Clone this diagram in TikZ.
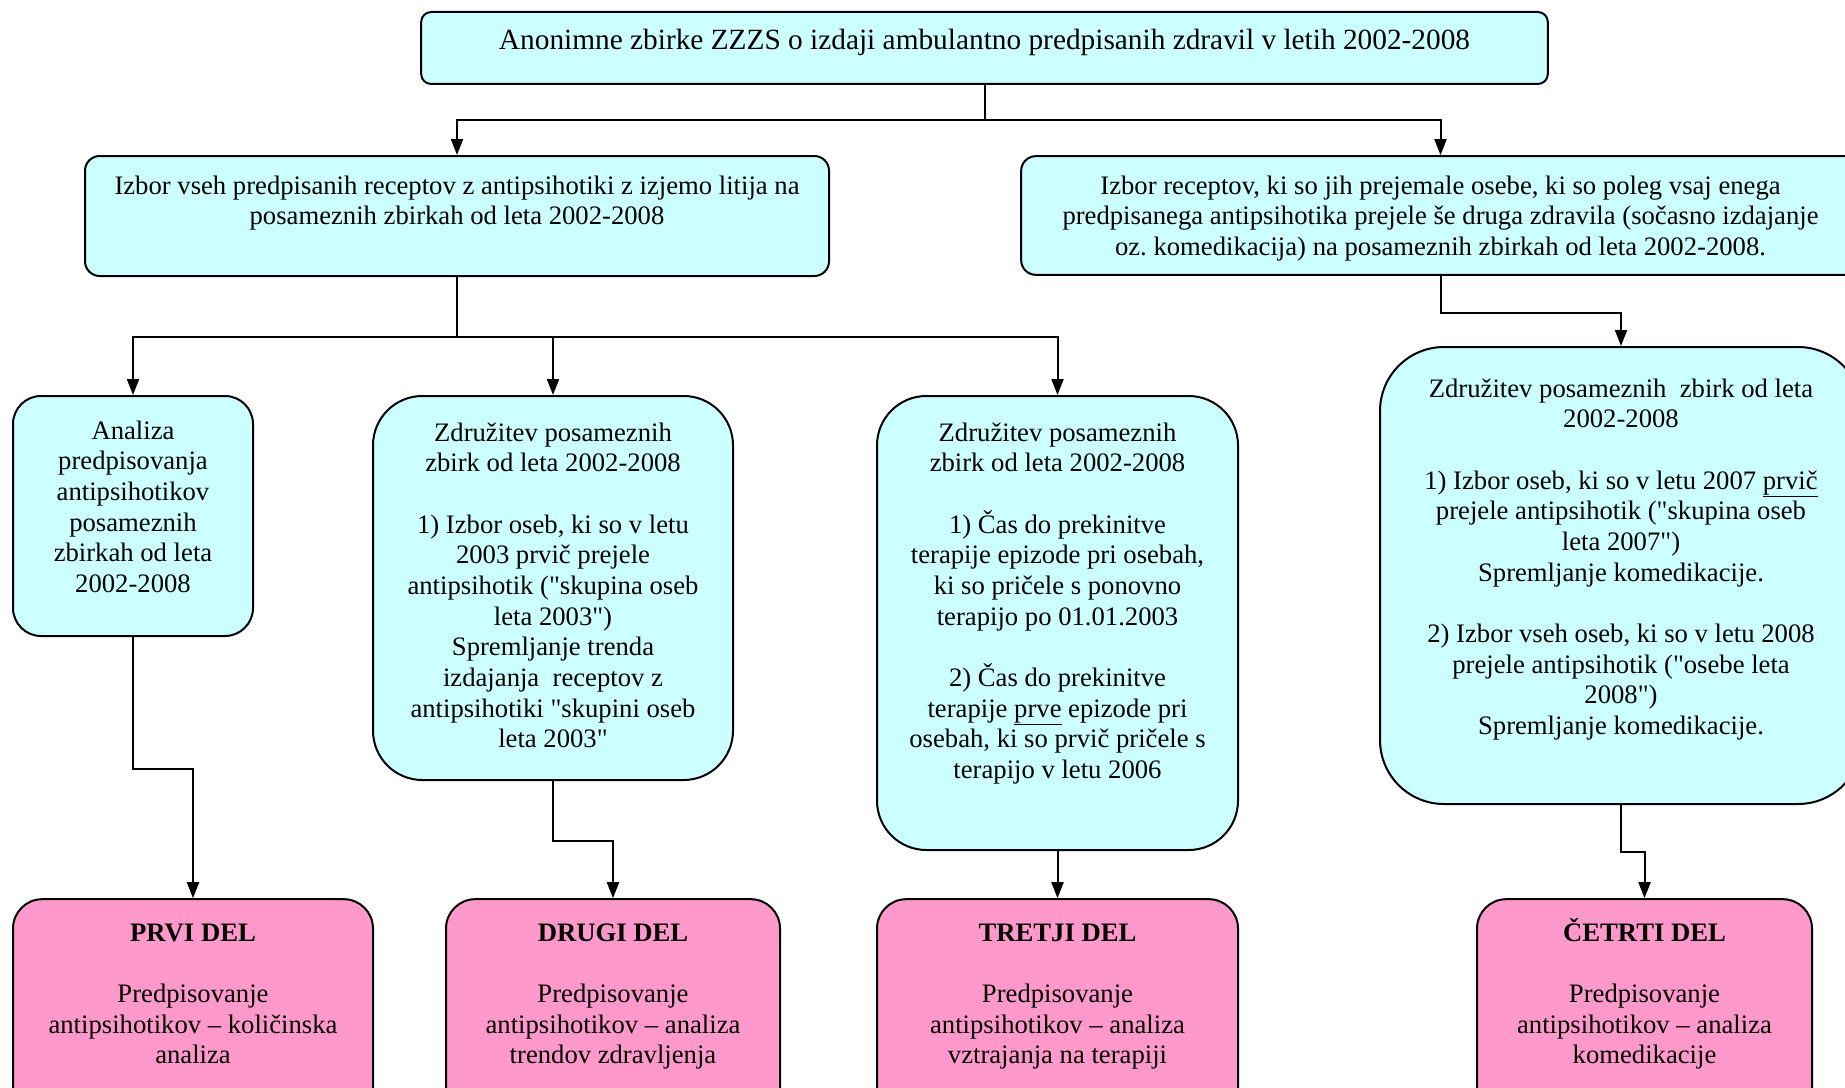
\documentclass[tikz,border=0pt]{standalone}
\usepackage{fontspec}
\setmainfont{Liberation Serif}[Ligatures=TeXOff]
\usetikzlibrary{arrows.meta}
\definecolor{boxcyan}{HTML}{CCFFFF}
\definecolor{boxpink}{HTML}{FF99CC}
\newcommand\mystrut{\rule{0pt}{18pt}}
\frenchspacing
\tikzset{
  box/.style={draw=black, line width=1.5pt, rectangle, inner sep=0pt},
  stage/.style={box, fill=boxcyan},
  part/.style={box, fill=boxpink, rounded corners=22pt, minimum height=173pt},
  lbl/.style={align=center, inner sep=0pt, anchor=north, font=\fontsize{20}{23}\selectfont},
  arr/.style={line width=1.5pt, -{Triangle[length=12pt,width=9pt]}},
}
\begin{document}
\begin{tikzpicture}[x=0.75pt,y=-0.75pt]
\clip (0,0) rectangle (1845,1088);
\fill[white] (0,0) rectangle (1845,1088);

% source box
\node[stage, rounded corners=7.5pt, minimum width=845pt, minimum height=54pt] (top) at (984.5,48) {};
\node[lbl, font=\fontsize{22}{25}\selectfont] (topt) at ([yshift=-10.4pt]top.north) {\mystrut Anonimne zbirke ZZZS o izdaji ambulantno predpisanih zdravil v letih 2002-2008};

% second level
\node[stage, rounded corners=11pt, minimum width=558pt, minimum height=90pt] (b1) at (457,216) {};
\node[lbl] (b1t) at ([yshift=-11.1pt]b1.north) {\mystrut Izbor vseh predpisanih receptov z antipsihotiki z izjemo litija na\\posameznih zbirkah od leta 2002-2008};

\node[stage, rounded corners=11pt, minimum width=629pt, minimum height=89pt] (b2) at (1440.5,215.5) {};
\node[lbl] (b2t) at ([yshift=-11.1pt]b2.north) {\mystrut Izbor receptov, ki so jih prejemale osebe, ki so poleg vsaj enega\\predpisanega antipsihotika prejele še druga zdravila (sočasno izdajanje\\oz. komedikacija) na posameznih zbirkah od leta 2002-2008.};

% third level
\node[stage, rounded corners=21pt, minimum width=180pt, minimum height=180pt] (c1) at (133,516) {};
\node[lbl] (c1t) at ([yshift=-14.9pt]c1.north) {\mystrut Analiza\\predpisovanja\\antipsihotikov\\posameznih\\zbirkah od leta\\2002-2008};

\node[stage, rounded corners=37pt, minimum width=270pt, minimum height=288pt] (c2) at (553,588) {};
\node[lbl] (c2t) at ([yshift=-16.4pt]c2.north) {\mystrut Združitev posameznih\\zbirk od leta 2002-2008\\[23pt]1) Izbor oseb, ki so v letu\\2003 prvič prejele\\antipsihotik ("skupina oseb\\leta 2003")\\Spremljanje trenda\\izdajanja\ \ receptov z\\antipsihotiki "skupini oseb\\leta 2003"};

\node[stage, rounded corners=37pt, minimum width=270.75pt, minimum height=340.5pt] (c3) at (1057.5,623) {};
\node[lbl] (c3t) at ([yshift=-16.4pt]c3.north) {\mystrut Združitev posameznih\\zbirk od leta 2002-2008\\[23pt]1) Čas do prekinitve\\terapije epizode pri osebah,\\ki so pričele s ponovno\\terapijo po 01.01.2003\\[23pt]2) Čas do prekinitve\\terapije \underline{prve} epizode pri\\osebah, ki so prvič pričele s\\terapijo v letu 2006};

\node[stage, rounded corners=48pt, minimum width=361.5pt, minimum height=342.75pt] (c4) at (1621,575.5) {};
\node[lbl] (c4t) at ([yshift=-20.1pt]c4.north) {\mystrut Združitev posameznih\ \ zbirk od leta\\2002-2008\\[23pt]1) Izbor oseb, ki so v letu 2007 \underline{prvič}\\prejele antipsihotik ("skupina oseb\\leta 2007")\\Spremljanje komedikacije.\\[23pt]2) Izbor vseh oseb, ki so v letu 2008\\prejele antipsihotik ("osebe leta\\2008")\\Spremljanje komedikacije.};

% result parts
\node[part, minimum width=270pt] (d1) at (193,1014.5) {};
\node[lbl] (d1t) at ([yshift=-14.1pt]d1.north) {\mystrut\textbf{PRVI DEL}\\[23pt]Predpisovanje\\antipsihotikov – količinska\\analiza};

\node[part, minimum width=250.5pt] (d2) at (613,1014.5) {};
\node[lbl] (d2t) at ([yshift=-14.1pt]d2.north) {\mystrut\textbf{DRUGI DEL}\\[23pt]Predpisovanje\\antipsihotikov – analiza\\trendov zdravljenja};

\node[part, minimum width=270.75pt] (d3) at (1057.5,1014.5) {};
\node[lbl] (d3t) at ([yshift=-14.1pt]d3.north) {\mystrut\textbf{TRETJI DEL}\\[23pt]Predpisovanje\\antipsihotikov – analiza\\vztrajanja na terapiji};

\node[part, minimum width=251.25pt] (d4) at (1644.5,1014.5) {};
\node[lbl] (d4t) at ([yshift=-14.1pt]d4.north) {\mystrut\textbf{ČETRTI DEL}\\[23pt]Predpisovanje\\antipsihotikov – analiza\\komedikacije};

% connectors
\draw[arr] (top.south) -- ++(0,35) -| (b1.north);
\draw[arr] (top.south) -- ++(0,35) -| (b2.north);
\draw[arr] (b1.south) -- ++(0,60) -| (c1.north);
\draw[arr] (b1.south) -- ++(0,60) -| (c2.north);
\draw[arr] (b1.south) -- ++(0,60) -| (c3.north);
\draw[arr] (b2.south) -- ++(0,37) -| (c4.north);
\draw[arr] (c1.south) -- ++(0,132) -| (d1.north);
\draw[arr] (c2.south) -- ++(0,60) -| (d2.north);
\draw[arr] (c3.south) -- (d3.north);
\draw[arr] (c4.south) -- ++(0,47) -| (d4.north);
\end{tikzpicture}
\end{document}
